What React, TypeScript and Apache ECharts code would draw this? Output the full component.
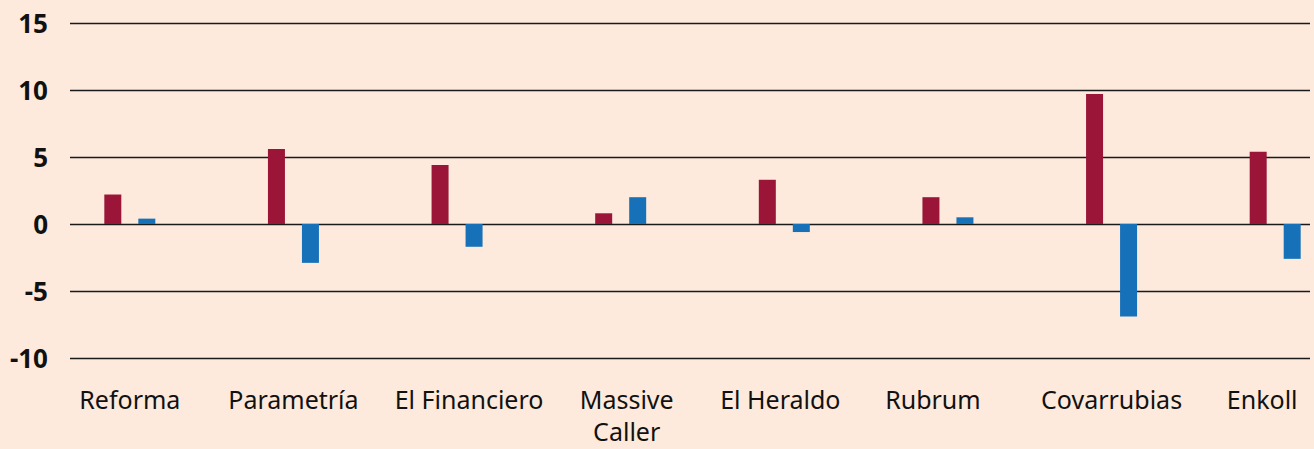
import React, { useEffect, useRef } from "react";
import * as echarts from "echarts";

const categories = ["Reforma", "Parametría", "El Financiero", "Massive\nCaller", "El Heraldo", "Rubrum", "Covarrubias", "Enkoll"];
const redValues = [2.2, 5.6, 4.4, 0.8, 3.3, 2.0, 9.7, 5.4];
const blueValues = [0.4, -2.9, -1.7, 2.0, -0.6, 0.5, -6.9, -2.6];
const yMin = -10;
const yMax = 15;
const yInterval = 5;

// label horizontal nudges (px, + = right) to match the reference's label placement
const labelNudge: Record<string, number> = {
  "El Financiero": 12,
  "Massive\nCaller": 6,
  "El Heraldo": -4,
  Rubrum: -15,
  Enkoll: -13,
};

export default function App() {
  const ref = useRef<HTMLDivElement>(null);
  useEffect(() => {
    if (!ref.current) return;
    const chart = echarts.init(ref.current, undefined, { renderer: "svg" });
    const fontFamily = "'Noto Sans', sans-serif";
    const base = { fontFamily, fontSize: 25, lineHeight: 32, color: "#111" };
    const rich: Record<string, any> = {};
    categories.forEach((c, i) => {
      const s = labelNudge[c] || 0;
      rich["l" + i] = { ...base, padding: s >= 0 ? [0, 0, 0, 2 * s] : [0, -2 * s, 0, 0] };
    });
    chart.setOption({
      animation: false,
      backgroundColor: "#FDEADC",
      grid: [
        { left: 70, right: 4, top: 23, bottom: 91, containLabel: false, outerBoundsMode: "none" },
        { left: 48, width: 1309, top: 23, bottom: 91, containLabel: false, outerBoundsMode: "none" },
      ],
      xAxis: [
        {
          type: "category",
          gridIndex: 0,
          data: categories,
          show: false,
        },
        {
          type: "category",
          gridIndex: 1,
          data: categories,
          axisLine: { show: false },
          axisTick: { show: false },
          splitLine: { show: false },
          axisLabel: {
            interval: 0,
            margin: 25,
            ...base,
            formatter: (v: string) => {
              const i = categories.indexOf(v);
              return v
                .split("\n")
                .map((line) => "{l" + i + "|" + line + "}")
                .join("\n");
            },
            rich,
          },
        },
      ],
      yAxis: [
        {
          type: "value",
          gridIndex: 0,
          min: yMin,
          max: yMax,
          interval: yInterval,
          axisLine: { show: false },
          axisTick: { show: false },
          splitLine: { show: true, lineStyle: { color: "#1a1a1a", width: 1.4 } },
          axisLabel: {
            margin: 22,
            fontFamily,
            fontWeight: "bold",
            fontSize: 26,
            color: "#111",
          },
        },
        {
          type: "value",
          gridIndex: 1,
          min: yMin,
          max: yMax,
          interval: yInterval,
          show: false,
          splitLine: { show: false },
        },
      ],
      series: [
        {
          type: "bar",
          xAxisIndex: 1,
          yAxisIndex: 1,
          data: redValues,
          barWidth: 17,
          barGap: "100%",
          itemStyle: { color: "#9A1538" },
        },
        {
          type: "bar",
          xAxisIndex: 1,
          yAxisIndex: 1,
          data: blueValues,
          barWidth: 17,
          barGap: "100%",
          itemStyle: { color: "#1771B8" },
        },
      ],
    });
    return () => chart.dispose();
  }, []);
  return <div ref={ref} style={{ width: 1314, height: 449, position: "absolute", left: 0, top: 0 }} />;
}
